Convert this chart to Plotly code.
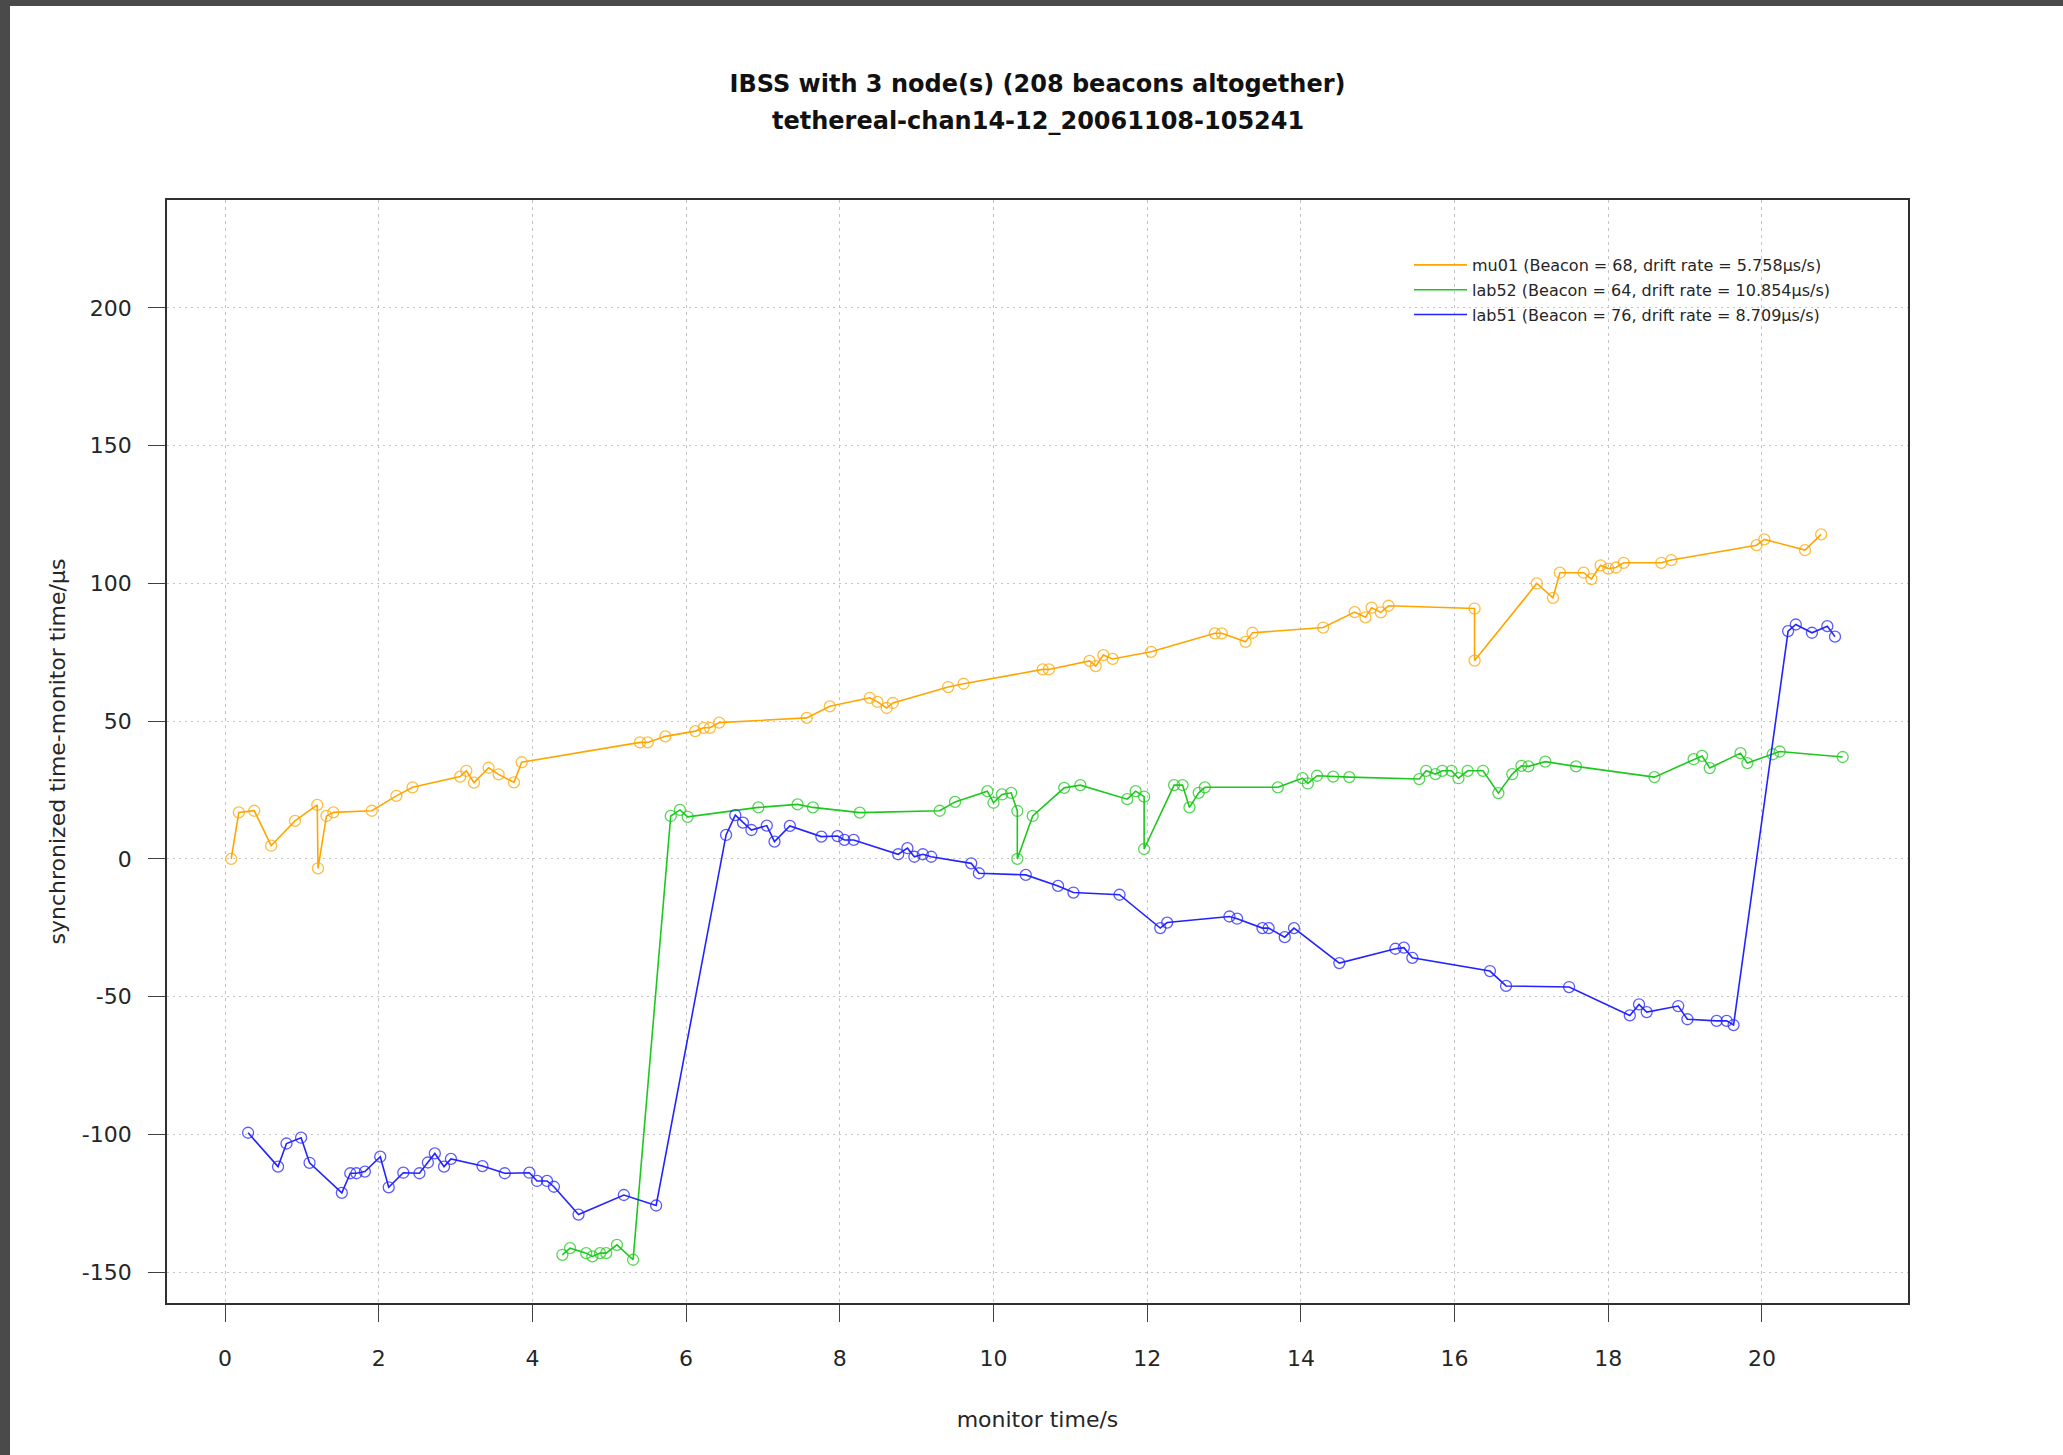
import plotly.graph_objects as go

# ---------------- data ----------------
series_names = ["mu01", "lab52", "lab51"]
legend_labels = [
    "mu01 (Beacon = 68, drift rate = 5.758\u03bcs/s)",
    "lab52 (Beacon = 64, drift rate = 10.854\u03bcs/s)",
    "lab51 (Beacon = 76, drift rate = 8.709\u03bcs/s)",
]

mu01_x = [0.08, 0.18, 0.38, 0.60, 0.91, 1.20, 1.21, 1.32, 1.41, 1.91, 2.23, 2.44, 3.06, 3.14, 3.24,
          3.43, 3.56, 3.76, 3.86, 5.40, 5.50, 5.73, 6.12, 6.23, 6.31, 6.43, 7.57, 7.87, 8.39, 8.49,
          8.61, 8.69, 9.41, 9.61, 10.64, 10.72, 11.25, 11.33, 11.43, 11.55, 12.05, 12.88, 12.97, 13.28,
          13.37, 14.29, 14.70, 14.84, 14.92, 15.04, 15.14, 16.26, 16.26, 17.07, 17.28, 17.37, 17.68,
          17.78, 17.90, 18.00, 18.10, 18.20, 18.69, 18.82, 19.93, 20.03, 20.56, 20.77]
mu01_y = [0, 16.9, 17.5, 4.8, 13.8, 19.6, -3.4, 15.6, 16.9, 17.5, 22.9, 26.0, 29.9, 32.0, 27.7,
          33.1, 30.7, 27.8, 35.1, 42.3, 42.3, 44.5, 46.4, 47.6, 47.6, 49.5, 51.2, 55.4, 58.5, 57.0,
          54.8, 56.6, 62.4, 63.6, 68.8, 68.8, 71.9, 70.0, 74.0, 72.6, 75.2, 81.9, 81.9, 78.8,
          82.1, 84.0, 89.6, 87.7, 91.2, 89.5, 91.9, 90.9, 72.0, 100.0, 94.8, 103.9, 103.9,
          101.6, 106.6, 105.4, 105.8, 107.5, 107.5, 108.5, 113.9, 116.0, 112.1, 117.8]

lab52_x = [4.39, 4.49, 4.70, 4.78, 4.88, 4.96, 5.10, 5.31, 5.80, 5.92, 6.02, 6.94, 7.45, 7.65, 8.26,
           9.30, 9.50, 9.92, 10.00, 10.11, 10.23, 10.31, 10.31, 10.51, 10.92, 11.13, 11.74, 11.85,
           11.96, 11.96, 12.35, 12.46, 12.55, 12.67, 12.75, 13.70, 14.02, 14.09, 14.21, 14.42, 14.63,
           15.54, 15.63, 15.75, 15.84, 15.96, 16.05, 16.17, 16.37, 16.57, 16.75, 16.87, 16.96, 17.18,
           17.58, 18.60, 19.11, 19.22, 19.32, 19.72, 19.81, 20.14, 20.23, 21.05]
lab52_y = [-143.7, -141.3, -143.1, -144.3, -143.1, -143.1, -140.1, -145.5, 15.6, 17.8, 15.3, 18.7,
           19.8, 18.7, 16.8, 17.5, 20.7, 24.6, 20.4, 23.4, 24.0, 17.4, 0.0, 15.6, 25.8, 26.8, 21.7,
           24.6, 22.6, 3.6, 26.8, 26.8, 18.7, 24.0, 26.0, 26.0, 29.3, 27.4, 30.2, 29.9, 29.7, 29.0,
           32.0, 30.8, 32.0, 32.0, 29.3, 32.0, 32.0, 23.9, 30.8, 33.8, 33.6, 35.3, 33.6, 29.7, 36.2,
           37.4, 33.0, 38.4, 34.8, 38.0, 39.0, 37.0]

lab51_x = [0.30, 0.69, 0.80, 0.99, 1.10, 1.52, 1.63, 1.71, 1.82, 2.02, 2.13, 2.32, 2.53, 2.64, 2.73,
           2.85, 2.94, 3.35, 3.64, 3.96, 4.06, 4.19, 4.28, 4.60, 5.19, 5.61, 6.52, 6.64, 6.74, 6.85,
           7.05, 7.15, 7.35, 7.76, 7.97, 8.06, 8.18, 8.76, 8.88, 8.97, 9.08, 9.19, 9.71, 9.81, 10.42,
           10.84, 11.04, 11.64, 12.17, 12.26, 13.07, 13.17, 13.50, 13.58, 13.79, 13.91, 14.50, 15.23,
           15.34, 15.45, 16.46, 16.67, 17.49, 18.28, 18.40, 18.50, 18.91, 19.03, 19.41, 19.54, 19.63,
           20.34, 20.44, 20.65, 20.85, 20.95]
lab51_y = [-99.4, -111.7, -103.3, -101.2, -110.3, -121.2, -114.1, -114.1, -113.5, -108.1, -119.2,
           -113.9, -114.1, -110.2, -106.9, -111.7, -108.9, -111.5, -114.1, -113.9, -116.9, -116.9,
           -119.0, -129.1, -122.0, -125.8, 8.7, 15.9, 13.2, 10.5, 12.1, 6.3, 12.0, 8.1, 8.3, 6.9,
           6.9, 1.7, 3.9, 0.8, 1.7, 0.8, -1.6, -5.2, -5.8, -9.8, -12.2, -13.0, -25.1, -23.1, -20.9,
           -21.7, -25.1, -25.1, -28.4, -25.1, -37.8, -32.6, -32.2, -35.9, -40.7, -46.1, -46.5, -56.8,
           -52.8, -55.6, -53.4, -58.2, -58.8, -58.8, -60.3, 82.7, 85.1, 82.1, 84.5, 80.7]

x_ticks = [0, 2, 4, 6, 8, 10, 12, 14, 16, 18, 20]
x_tick_labels = ["0", "2", "4", "6", "8", "10", "12", "14", "16", "18", "20"]
y_ticks = [-150, -100, -50, 0, 50, 100, 150, 200]
y_tick_labels = ["-150", "-100", "-50", "0", "50", "100", "150", "200"]

title_line1 = "IBSS with 3 node(s) (208 beacons altogether)"
title_line2 = "tethereal-chan14-12_20061108-105241"
x_title = "monitor time/s"
y_title = "synchronized time-monitor time/\u03bcs"

# ---------------- styling ----------------
line_colors = ["#FFA500", "#1DC81D", "#2323FF"]
marker_colors = ["rgba(255,165,0,0.75)", "rgba(29,200,29,0.75)", "rgba(35,35,255,0.75)"]
FONT = "DejaVu Sans, Liberation Sans, sans-serif"
TXT = "#262626"

fig = go.Figure()
all_x = [mu01_x, lab52_x, lab51_x]
all_y = [mu01_y, lab52_y, lab51_y]

for i in range(3):
    fig.add_trace(go.Scatter(
        x=all_x[i], y=all_y[i], mode="lines+markers", name=series_names[i],
        line=dict(color=line_colors[i], width=1.6),
        marker=dict(symbol="circle-open", size=11, color=marker_colors[i],
                    line=dict(width=1.3, color=marker_colors[i])),
        showlegend=False,
    ))
# legend entries (line only, like the reference)
for i in range(3):
    fig.add_trace(go.Scatter(
        x=[None], y=[None], mode="lines", name=legend_labels[i],
        line=dict(color=line_colors[i], width=1.6),
        legendgroup=series_names[i], showlegend=True,
    ))

W, H = 2063, 1455
L, R, T, B = 167, 155, 200, 152
pw, ph = W - L - R, H - T - B

def px_x(X):
    return (X - L) / pw

def px_y(Y):
    return (H - B - Y) / ph

axis_common = dict(
    showline=True, linecolor="#303030", linewidth=1.6, mirror=True,
    ticks="outside", ticklen=17, tickwidth=1.3, tickcolor="#404040",
    showgrid=True, gridcolor="#c4c4c4", gridwidth=1.2,
    zeroline=False,
    tickfont=dict(family=FONT, size=22, color=TXT),
    automargin=False,
)

fig.update_xaxes(
    range=[-0.755, 21.9], tickvals=x_ticks, ticktext=x_tick_labels, griddash="3px,4px",
    ticklabelstandoff=18,
    title=dict(text=x_title, font=dict(family=FONT, size=22, color=TXT), standoff=41),
    **axis_common,
)
fig.update_yaxes(
    range=[-161.2, 239.2], tickvals=y_ticks, ticktext=y_tick_labels, griddash="2px,4px",
    ticklabelstandoff=12,
    title=dict(text=y_title, font=dict(family=FONT, size=22, color=TXT), standoff=10),
    **axis_common,
)

fig.update_layout(
    width=W, height=H,
    margin=dict(l=L, r=R, t=T, b=B),
    paper_bgcolor="white", plot_bgcolor="white",
    font=dict(family=FONT, color=TXT),
    showlegend=True,
    legend=dict(
        x=px_x(1409), y=px_y(248), xanchor="left", yanchor="top",
        bgcolor="rgba(0,0,0,0)", borderwidth=0,
        font=dict(family=FONT, size=16, color=TXT),
        traceorder="grouped", tracegroupgap=1,
        itemwidth=53,
    ),
    title=dict(
        text="<b>" + title_line1 + "</b>",
        font=dict(family=FONT, size=24, color="#111111"),
        x=0.5, xref="paper", xanchor="center",
        y=1 - 84 / H, yref="container", yanchor="middle",
    ),
    annotations=[
        dict(text="<b>" + title_line2 + "</b>", xref="paper", yref="paper",
             x=0.5, y=px_y(121), xanchor="center", yanchor="middle", showarrow=False,
             font=dict(family=FONT, size=24, color="#111111")),
    ],
    shapes=[
        # dark frame strips of the original screenshot
        dict(type="rect", xref="paper", yref="paper", x0=px_x(0), x1=px_x(10),
             y0=px_y(H), y1=px_y(0), fillcolor="#4a4a4a", line=dict(width=0), layer="above"),
        dict(type="rect", xref="paper", yref="paper", x0=px_x(0), x1=px_x(W),
             y0=px_y(6), y1=px_y(0), fillcolor="#4a4a4a", line=dict(width=0), layer="above"),
    ],
)

fig.write_html("out.html")
